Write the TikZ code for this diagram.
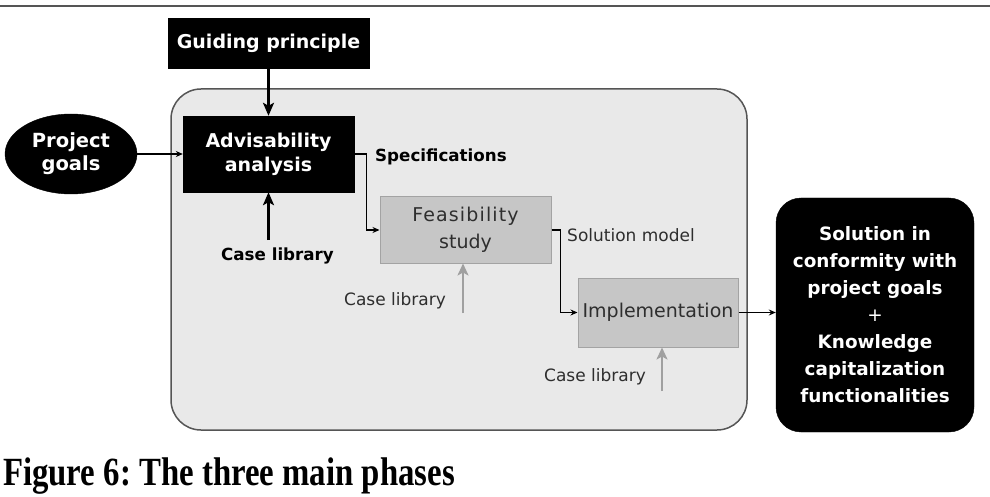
\documentclass[tikz,border=0pt]{standalone}
\usepackage{fontspec}
\setsansfont{DejaVu Sans}
\newfontfamily\captionserif{Liberation Serif}
\usetikzlibrary{arrows.meta,shapes.geometric}

\definecolor{framefill}{HTML}{E9E9E9}
\definecolor{frameline}{HTML}{555555}
\definecolor{phasefill}{HTML}{C6C6C6}
\definecolor{phaseline}{HTML}{A3A3A3}
\definecolor{phasetext}{HTML}{2E2E2E}
\definecolor{feedgray}{HTML}{A0A0A0}

\tikzset{
  blackbox/.style={draw=black, fill=black, text=white, align=center,
    font=\sffamily\bfseries\fontsize{19}{25}\selectfont, inner sep=0pt},
  phasebox/.style={draw=phaseline, fill=phasefill, text=phasetext, align=center,
    line width=1pt, font=\sffamily\fontsize{19}{26}\selectfont, inner sep=0pt},
  flow/.style={line width=1.1pt, -{Stealth[length=7pt,width=6pt]}},
  bigarrow/.style={line width=2.4pt, -{Stealth[length=13pt,width=11pt,inset=3pt]}},
  feedback/.style={line width=2.4pt, draw=feedgray, -{Stealth[length=12pt,width=11pt,inset=3pt]}},
  boldlabel/.style={font=\sffamily\bfseries\fontsize{16.7}{20}\selectfont, inner sep=0pt},
  graylabel/.style={font=\sffamily\fontsize{17}{20}\selectfont, text=phasetext, inner sep=0pt},
}

\begin{document}
\begin{tikzpicture}[x=1pt, y=-1pt]
\useasboundingbox (0,0) rectangle (990,497);

% rule above the figure
\draw[frameline, line width=2pt] (0,6) -- (990,6);

% frame holding the three phases
\node[draw=frameline, fill=framefill, line width=1.5pt, rounded corners=30pt,
      minimum width=576pt, minimum height=341pt, inner sep=0pt] (frame) at (459,259.5) {};

% inputs
\node[blackbox, minimum width=201pt, minimum height=50pt] (guide) at (268.5,43) {Guiding principle};
\node[blackbox, ellipse, minimum width=132pt, minimum height=80pt,
      font=\sffamily\bfseries\fontsize{19.5}{25}\selectfont] (goals) at (71,154)
  {Project\\[-2pt]goals};

% phases
\node[blackbox, minimum width=171pt, minimum height=76pt] (adv) at (268.5,154)
  {Advisability\\[-1pt]analysis};
\node[phasebox, minimum width=171pt, minimum height=66pt] (feas) at (465.5,230)
  {\addfontfeature{LetterSpace=6}Feasibility\\[1pt]study};
\node[phasebox, minimum width=160pt, minimum height=69pt] (impl) at (658,312.5)
  {Implementation};

% result
\node[blackbox, rounded corners=25pt, minimum width=198pt, minimum height=234pt,
      font=\sffamily\bfseries\fontsize{18.4}{27}\selectfont] (sol) at (875,315)
  {\raisebox{-3pt}{\parbox{190pt}{\centering Solution in\\conformity with\\project goals\\{\mdseries +}\\Knowledge\\capitalization\\functionalities}}};

% labels
\node[boldlabel, anchor=west] (spec) at (375,157) {Specifications};
\node[boldlabel] (caseA) at (277.5,256) {Case library};
\node[graylabel] (caseB) at (395,301) {Case library};
\node[graylabel] (caseC) at (595,377) {Case library};
\node[graylabel, anchor=west] (model) at (567,235) {Solution model};

\coordinate (caseAin) at (268.5,240);
\coordinate (caseBin) at (463,313);
\coordinate (caseCin) at (662,391);

% connectors
\draw[flow] (goals.east) -- (goals.east -| adv.west);
\draw[bigarrow] (guide.south) -- (adv.north);
\draw[bigarrow] (caseAin) -- (adv.south);
\draw[flow] (adv.east) -- ++(12,0) |- (feas.west);
\draw[flow] (feas.east) -- ++(9,0) |- (impl.west);
\draw[feedback] (caseBin) -- (caseBin |- feas.south);
\draw[feedback] (caseCin) -- (caseCin |- impl.south);
\draw[flow] (impl.east) -- (impl.east -| sol.west);

% caption
\node[anchor=base west, inner sep=0pt] (caption) at (3,485)
  {\scalebox{0.82}[1]{\captionserif\bfseries\fontsize{40}{44}\selectfont Figure 6:\ The three main phases}};
\end{tikzpicture}
\end{document}
